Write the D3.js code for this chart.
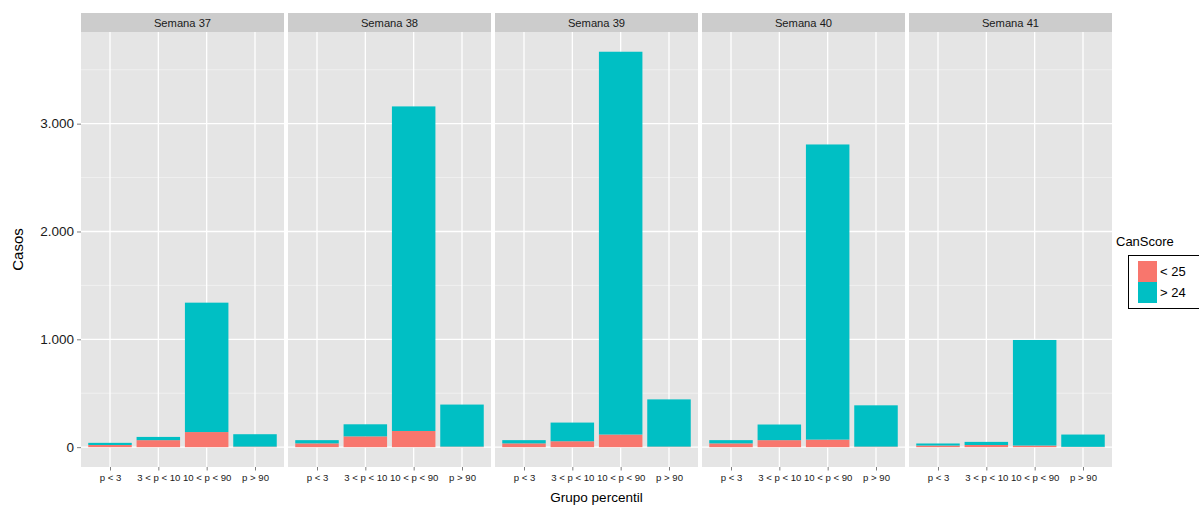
<!DOCTYPE html>
<html><head><meta charset="utf-8">
<script src="https://cdn.jsdelivr.net/npm/d3@7"></script>
<style>body{margin:0;background:#fff}svg{display:block;font-family:"Liberation Sans",Arial,sans-serif}</style>
</head><body><svg id="c" width="1199" height="505"></svg>
<script>
const weeks = ["Semana 37","Semana 38","Semana 39","Semana 40","Semana 41"];
const groups = ["p < 3","3 < p < 10","10 < p < 90","p > 90"];
// CanScore < 25 (bottom, red)
const below25 = [
  [20, 65, 140, 5],
  [35, 100, 150, 5],
  [35, 55, 117, 5],
  [35, 65, 70, 5],
  [15, 20, 15, 3]
];
// CanScore > 24 (top, teal)
const above24 = [
  [20, 30, 1200, 115],
  [30, 112, 3010, 390],
  [30, 173, 3550, 438],
  [30, 145, 2737, 383],
  [19, 29, 979, 114]
];
const yTicks = [0, 1000, 2000, 3000];
const yMinor = [500, 1500, 2500, 3500];
const seriesNames = ["< 25", "> 24"];
const colors = ["#F8766D", "#00BFC4"];

const svg = d3.select("#c");
const loc = d3.formatLocale({decimal:",", thousands:".", grouping:[3], currency:["",""]});
const fmt = loc.format(",d");

const panelL = 81, panelW = 203, gap = 4;
const stripTop = 13, panelTop = 32, panelBot = 467;
const y = d3.scaleLinear().domain([-184, 3850]).range([panelBot, panelTop]);
const xPanel = d3.scaleBand().domain(weeks).range([panelL, panelL + 5*panelW + 4*gap]).paddingInner(gap/(panelW+gap)).paddingOuter(0);

weeks.forEach((w, wi) => {
  const x0 = xPanel(w), pw = xPanel.bandwidth();
  const g = svg.append("g");
  g.append("rect").attr("x", x0).attr("y", stripTop).attr("width", pw).attr("height", panelTop - stripTop).attr("fill", "#CCCCCC");
  g.append("text").attr("x", x0 + pw/2).attr("y", (stripTop + panelTop)/2 + 4).attr("text-anchor","middle")
    .attr("font-size", 11.2).attr("fill", "#1a1a1a").text(w);
  g.append("rect").attr("x", x0).attr("y", panelTop).attr("width", pw).attr("height", panelBot - panelTop).attr("fill", "#E5E5E5");
  const x = d3.scalePoint().domain(groups).range([x0, x0 + pw]).padding(0.6);
  const step = x.step();
  yMinor.forEach(v => g.append("line").attr("x1", x0).attr("x2", x0+pw).attr("y1", y(v)).attr("y2", y(v)).attr("stroke", "#F2F2F2").attr("stroke-width", 0.8));
  yTicks.forEach(v => g.append("line").attr("x1", x0).attr("x2", x0+pw).attr("y1", y(v)).attr("y2", y(v)).attr("stroke", "#fff").attr("stroke-width", 1.3));
  groups.forEach(c => g.append("line").attr("x1", x(c)).attr("x2", x(c)).attr("y1", panelTop).attr("y2", panelBot).attr("stroke", "#fff").attr("stroke-width", 1.3));
  const bw = step * 0.9;
  groups.forEach((c, ci) => {
    const r = below25[wi][ci], t = above24[wi][ci];
    g.append("rect").attr("x", x(c) - bw/2).attr("width", bw).attr("y", y(r)).attr("height", y(0) - y(r)).attr("fill", colors[0]);
    g.append("rect").attr("x", x(c) - bw/2).attr("width", bw).attr("y", y(r + t)).attr("height", y(r) - y(r + t)).attr("fill", colors[1]);
  });
  const ax = svg.append("g").attr("transform", `translate(0,${panelBot})`).call(d3.axisBottom(x).tickSize(3.5).tickPadding(4));
  ax.select(".domain").remove();
  ax.selectAll("line").attr("stroke", "#7F7F7F");
  ax.selectAll("text").attr("font-size", 9.6).attr("fill", "#1a1a1a").attr("font-family", "Liberation Sans, Arial, sans-serif");
});

const ay = svg.append("g").attr("transform", `translate(${panelL},0)`).call(d3.axisLeft(y).tickValues(yTicks).tickFormat(fmt).tickSize(4).tickPadding(3));
ay.select(".domain").remove();
ay.selectAll("line").attr("stroke", "#7F7F7F");
ay.selectAll("text").attr("font-size", 13.5).attr("fill", "#1a1a1a").attr("font-family", "Liberation Sans, Arial, sans-serif");

svg.append("text").attr("transform", `translate(23,${(panelTop+panelBot)/2 + 0}) rotate(-90)`).attr("text-anchor","middle")
  .attr("font-size", 15).attr("fill", "#000").text("Casos");
svg.append("text").attr("x", (panelL + panelL + 5*panelW + 4*gap)/2).attr("y", 502).attr("text-anchor","middle")
  .attr("font-size", 13.5).attr("fill", "#000").text("Grupo percentil");

const lg = svg.append("g");
lg.append("text").attr("x", 1116).attr("y", 246).attr("font-size", 13).attr("fill","#000").text("CanScore");
lg.append("rect").attr("x", 1128.5).attr("y", 255.5).attr("width", 80).attr("height", 53).attr("fill", "#fff").attr("stroke", "#000").attr("stroke-width", 1);
seriesNames.forEach((s, i) => {
  lg.append("rect").attr("x", 1138).attr("y", 261 + i*21).attr("width", 19).attr("height", 21).attr("fill", colors[i]);
  lg.append("text").attr("x", 1160).attr("y", 276 + i*21).attr("font-size", 13).attr("fill","#000").text(s);
});
</script></body></html>
